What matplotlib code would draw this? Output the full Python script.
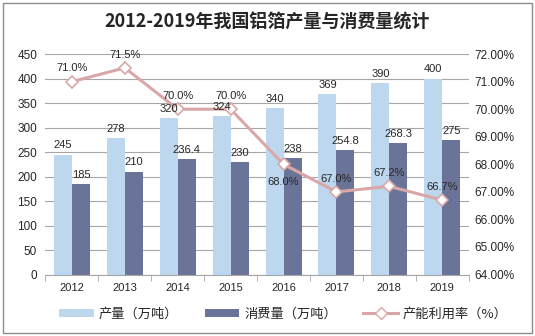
import numpy as np
import matplotlib
matplotlib.use("Agg")
import matplotlib.pyplot as plt
from matplotlib.lines import Line2D
from matplotlib.patches import Patch

plt.rcParams["font.family"] = ["Liberation Sans", "Noto Sans CJK SC", "DejaVu Sans"]

years = ["2012", "2013", "2014", "2015", "2016", "2017", "2018", "2019"]
output = [245, 278, 320, 324, 340, 369, 390, 400]
consumption = [185, 210, 236.4, 230, 238, 254.8, 268.3, 275]
consumption_labels = ["185", "210", "236.4", "230", "238", "254.8", "268.3", "275"]
utilization = [71.0, 71.5, 70.0, 70.0, 68.0, 67.0, 67.2, 66.7]
# label above the point, except where it sits below
util_label_above = [True, True, True, True, False, True, True, True]

LIGHT = "#BDD7EE"
DARK = "#6A7499"
LINE = "#D9A7A7"
GRID = "#A6A6A6"
TEXT = "#262626"

fig = plt.figure(figsize=(5.35, 3.36), dpi=100)
ax = fig.add_axes([0.085, 0.183, 0.791, 0.656])
ax2 = ax.twinx()
ax2.set_ylim(64, 72)

x = np.arange(len(years))
w = 0.34
b1 = ax.bar(x - w / 2, output, w, color=LIGHT, zorder=2)
b2 = ax.bar(x + w / 2, consumption, w, color=DARK, zorder=2)

# line lives on the primary axes (so value labels can sit over it),
# but uses the percentage scale of the twin axis
ax.plot(x, utilization, transform=ax2.transData, color=LINE, linewidth=2.2,
        marker="D", markersize=6, markerfacecolor="white", markeredgecolor=LINE,
        markeredgewidth=1.2, zorder=3, clip_on=False)

for t in ax.bar_label(b1, labels=[str(v) for v in output], padding=3, fontsize=8, color=TEXT):
    t.set_zorder(5)
for t in ax.bar_label(b2, labels=consumption_labels, padding=3, fontsize=8, color=TEXT):
    t.set_zorder(5)

for xi, v, above in zip(x, utilization, util_label_above):
    off = 6 if above else -9
    ax2.annotate(f"{v:.1f}%", (xi, v), xytext=(0, off), textcoords="offset points",
                 ha="center", va="bottom" if above else "top", fontsize=8, color=TEXT)

ax.set_ylim(0, 450)
ax.set_yticks(np.arange(0, 451, 50))
ax.set_xlim(-0.5, len(years) - 0.5)
ax.set_xticks(x)
ax.set_xticklabels(years)
ax.set_xticks(np.arange(-0.5, len(years)), minor=True)
ax.tick_params(axis="x", which="major", length=0, pad=6, labelsize=8, labelcolor=TEXT)
ax.tick_params(axis="x", which="minor", length=4, color=GRID)
ax.tick_params(axis="y", length=0, pad=6, labelsize=8.5, labelcolor=TEXT)
ax.yaxis.grid(True, color=GRID, linewidth=0.8, zorder=0)
ax.set_axisbelow(True)
for s in ["top", "left", "right"]:
    ax.spines[s].set_visible(False)
ax.spines["bottom"].set_color(GRID)

ax2.set_yticks(np.arange(64, 72.01, 1))
ax2.set_yticklabels([f"{v:.2f}%" for v in np.arange(64, 72.01, 1)])
ax2.tick_params(axis="y", length=0, pad=4, labelsize=8.5, labelcolor=TEXT)
for s in ax2.spines.values():
    s.set_visible(False)

fig.text(0.5, 0.935, "2012-2019年我国铝箔产量与消费量统计", ha="center", va="center",
         fontsize=13, fontweight="bold", color=TEXT,
         family=["Noto Sans CJK SC", "DejaVu Sans"])

handles = [
    Patch(facecolor=LIGHT),
    Patch(facecolor=DARK),
    Line2D([0], [0], color=LINE, linewidth=2.2, marker="D", markersize=6,
           markerfacecolor="white", markeredgecolor=LINE),
]
fig.legend(handles, ["产量（万吨）", "消费量（万吨）", "产能利用率（%）"],
           loc="center", bbox_to_anchor=(0.53, 0.065), ncol=3, frameon=False,
           prop={"family": ["Noto Sans CJK SC", "DejaVu Sans"], "size": 9.5},
           handlelength=2.6, handleheight=0.55, columnspacing=2.0, handletextpad=0.4,
           labelcolor=TEXT)

fig.add_artist(plt.Rectangle((0.006, 0.01), 0.988, 0.98, transform=fig.transFigure,
                             fill=False, edgecolor="#8C8C8C", linewidth=1))

fig.savefig("out.png", dpi=100)
